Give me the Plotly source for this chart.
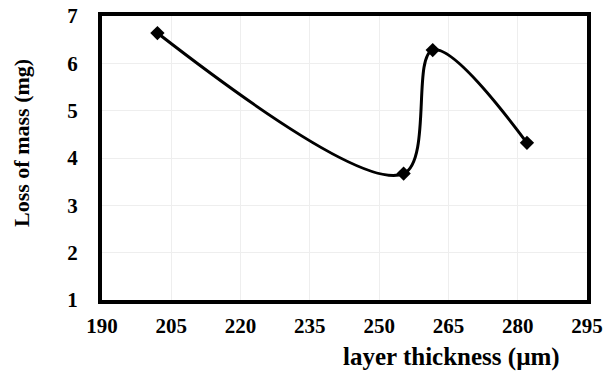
import plotly.graph_objects as go

layer_thickness = [202, 255.3, 261.6, 282]
loss_of_mass = [6.64, 3.67, 6.28, 4.32]
x_ticks = [190, 205, 220, 235, 250, 265, 280, 295]
y_ticks = [1, 2, 3, 4, 5, 6, 7]

FONT = "Liberation Serif"

fig = go.Figure()
fig.add_trace(go.Scatter(
    x=layer_thickness, y=loss_of_mass, mode="lines+markers",
    line=dict(color="black", width=3, shape="spline", smoothing=1),
    marker=dict(symbol="diamond", size=11, color="black"),
    showlegend=False,
))

axis_common = dict(
    showline=True, linecolor="black", linewidth=4, mirror=True,
    showgrid=True, gridcolor="#eeeeee", gridwidth=1,
    zeroline=False, ticks="", automargin=False,
    tickfont=dict(family=FONT, size=21, color="black", weight="bold"),
)
fig.update_xaxes(range=[190, 295], tickvals=x_ticks, ticklabelstandoff=4, **axis_common)
fig.update_yaxes(range=[1, 7], tickvals=y_ticks, ticklabelstandoff=16, **axis_common)

fig.update_layout(
    width=607, height=374,
    margin=dict(l=102, r=20, t=16, b=74, autoexpand=False),
    plot_bgcolor="white", paper_bgcolor="white",
    annotations=[
        dict(text="layer thickness (µm)", xref="paper", yref="paper",
             x=0.72, y=-0.2, xanchor="center", yanchor="middle", showarrow=False,
             font=dict(family=FONT, size=25, color="black", weight="bold")),
        dict(text="Loss of mass (mg)", xref="paper", yref="paper",
             x=-0.165, y=0.553, xanchor="center", yanchor="middle", textangle=-90, showarrow=False,
             font=dict(family=FONT, size=22, color="black", weight="bold")),
    ],
)

fig.write_html("out.html", config={"displayModeBar": False},
               post_script="document.body.style.margin='0';document.body.style.padding='0';")
